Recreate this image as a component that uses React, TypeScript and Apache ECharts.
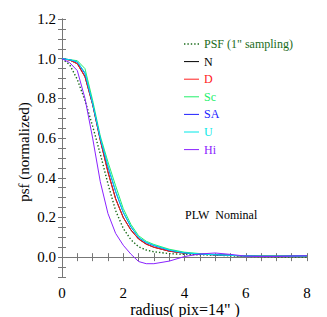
import React, { useEffect, useRef } from "react";
import * as echarts from "echarts";

const radius = [0, 0.25, 0.5, 0.75, 1, 1.25, 1.5, 1.75, 2, 2.25, 2.5, 2.75, 3, 3.5, 4, 4.5, 5, 5.5, 6, 6.5, 7, 7.5, 8];
const psfValues = [1.0, 0.97, 0.895, 0.79, 0.66, 0.52, 0.37, 0.235, 0.145, 0.088, 0.052, 0.036, 0.027, 0.018, 0.014, 0.012, 0.01, 0.007, 0.004, 0.002, 0.001, 0.001, 0.001];
const nValues = [1.0, 0.993, 0.975, 0.91, 0.77, 0.59, 0.43, 0.295, 0.2, 0.137, 0.092, 0.066, 0.05, 0.03, 0.02, 0.015, 0.012, 0.009, 0.006, 0.005, 0.005, 0.005, 0.006];
const dValues = [1.0, 0.993, 0.974, 0.908, 0.768, 0.588, 0.428, 0.293, 0.199, 0.136, 0.091, 0.065, 0.05, 0.03, 0.02, 0.015, 0.012, 0.009, 0.006, 0.005, 0.005, 0.006, 0.006];
const scValues = [1.0, 0.995, 0.99, 0.95, 0.79, 0.61, 0.48, 0.36, 0.245, 0.165, 0.108, 0.08, 0.064, 0.04, 0.025, 0.018, 0.013, 0.009, 0.006, 0.005, 0.005, 0.005, 0.006];
const saValues = [1.0, 0.995, 0.983, 0.925, 0.773, 0.597, 0.455, 0.33, 0.225, 0.152, 0.099, 0.073, 0.058, 0.035, 0.021, 0.015, 0.012, 0.009, 0.006, 0.005, 0.005, 0.006, 0.007];
const uValues = [1.0, 0.995, 0.985, 0.93, 0.775, 0.6, 0.46, 0.335, 0.228, 0.155, 0.1, 0.075, 0.06, 0.036, 0.022, 0.016, 0.012, 0.009, 0.006, 0.005, 0.005, 0.005, 0.006];
const hiValues = [1.0, 0.98, 0.94, 0.8, 0.6, 0.38, 0.22, 0.12, 0.06, 0.015, -0.022, -0.033, -0.033, -0.02, 0.003, 0.016, 0.021, 0.014, 0.005, 0.003, 0.003, 0.005, 0.007];

const seriesNames = ['PSF (1" sampling)', "N", "D", "Sc", "SA", "U", "Hi"];
const seriesColors = ["#1a6b1a", "#000000", "#ff2020", "#22f06a", "#2020ff", "#00e8e8", "#8a22ff"];
const seriesValues = [psfValues, nValues, dValues, scValues, saValues, uValues, hiValues];

const xTickLabels = ["0", "2", "4", "6", "8"];
const yTickLabels = ["0.0", "0.2", "0.4", "0.6", "0.8", "1.0", "1.2"];

const FONT = '"Liberation Serif", "Times New Roman", serif';
const AXIS_COLOR = "#777777";

export default function App() {
  const ref = useRef<HTMLDivElement>(null);
  useEffect(() => {
    if (!ref.current) return;
    const chart = echarts.init(ref.current, null, { renderer: "svg" });
    const tickCommon = {
      axisLine: { show: true, lineStyle: { color: AXIS_COLOR, width: 1 } },
      axisTick: { show: true, inside: true, length: 4, lineStyle: { color: AXIS_COLOR } },
      splitLine: { show: false },
    };
    const xFmt = (v: number) => {
      const s = String(Math.round(v * 100) / 100);
      return xTickLabels.includes(s) ? s : "";
    };
    const yFmt = (v: number) => {
      const s = (Math.round(v * 100) / 100).toFixed(1);
      const isMajor = Math.abs(Math.round(v * 100)) % 20 === 0 && v > -0.001;
      return isMajor && yTickLabels.includes(s) ? s : "";
    };
    const legendX = 184;
    const legendY = 44;
    const legendStep = 17.6;
    const legendGraphics: any[] = [];
    seriesNames.forEach((n, i) => {
      const y = legendY + legendStep * i;
      legendGraphics.push({
        type: "line",
        shape: { x1: legendX, y1: y, x2: legendX + 15, y2: y },
        style: { stroke: seriesColors[i], lineWidth: i === 0 ? 1.4 : 1, lineDash: i === 0 ? [1.4, 2] : null },
      });
      legendGraphics.push({
        type: "text",
        x: legendX + 20,
        y,
        style: { text: n, fontFamily: FONT, fontSize: 12, fill: seriesColors[i], verticalAlign: "middle" },
      });
    });
    chart.setOption({
      animation: false,
      backgroundColor: "#ffffff",
      grid: { left: 62, right: 20, top: 19, bottom: 40, containLabel: false },
      xAxis: [
        {
          type: "value", min: 0, max: 8, interval: 0.5, position: "bottom",
          ...tickCommon,
          axisLabel: { show: true, formatter: xFmt, color: "#000", fontFamily: FONT, fontSize: 15, margin: 8 },
        },
        {
          type: "value", min: 0, max: 8, interval: 0.5, position: "top",
          ...tickCommon,
          axisLabel: { show: false },
        },
      ],
      yAxis: [
        {
          type: "value", min: -0.1, max: 1.2, interval: 0.05, position: "left",
          ...tickCommon,
          axisLabel: { show: true, formatter: yFmt, color: "#000", fontFamily: FONT, fontSize: 15, margin: 6 },
        },
        {
          type: "value", min: -0.1, max: 1.2, interval: 0.05, position: "right",
          ...tickCommon,
          axisLabel: { show: false },
        },
      ],
      series: seriesNames.map((n, i) => ({
        name: n,
        type: "line",
        showSymbol: false,
        symbol: "none",
        data: radius.map((r, j) => [r, seriesValues[i][j]]),
        lineStyle: { color: seriesColors[i], width: i === 0 ? 1.4 : 1, type: i === 0 ? [1.4, 2] : "solid" },
        itemStyle: { color: seriesColors[i] },
        z: 2 + i,
      })),
      graphic: [
        ...legendGraphics,
        { type: "text", x: 185, y: 215, style: { text: "PLW  Nominal", fontFamily: FONT, fontSize: 12, fill: "#000", verticalAlign: "middle" } },
        { type: "text", x: 185, y: 309, style: { text: 'radius( pix=14" )', fontFamily: FONT, fontSize: 16, fill: "#000", align: "center", verticalAlign: "middle" } },
        { type: "text", x: 24, y: 152, rotation: Math.PI / 2, style: { text: "psf (normalized)", fontFamily: FONT, fontSize: 15, fill: "#000", align: "center", verticalAlign: "middle" } },
      ],
    });
    return () => chart.dispose();
  }, []);
  return <div ref={ref} style={{ width: 327, height: 317, position: "absolute", left: 0, top: 0 }} />;
}
